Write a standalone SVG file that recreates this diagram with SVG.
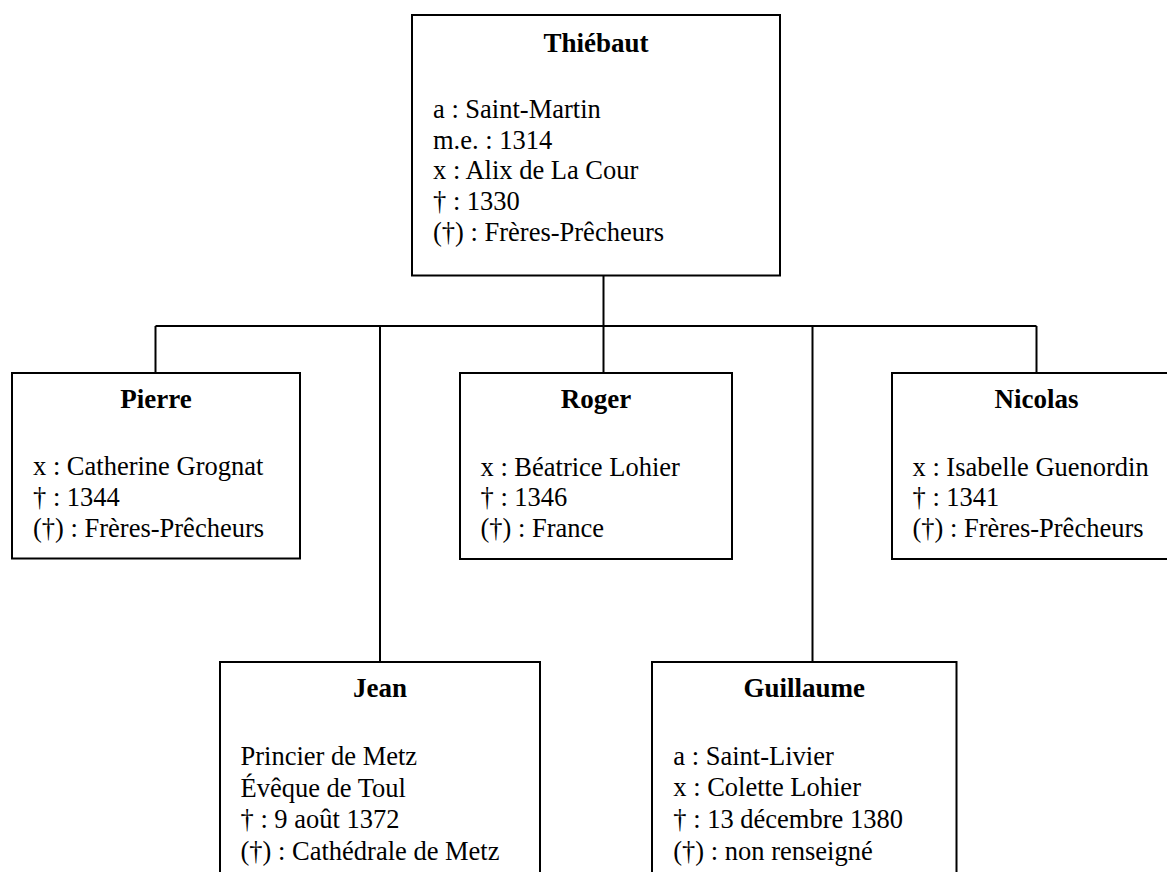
<svg xmlns="http://www.w3.org/2000/svg" width="1167" height="872" viewBox="0 0 1167 872">
<style>
.box{fill:#fff;stroke:#000;stroke-width:2}
.ln{stroke:#000;stroke-width:2;fill:none}
.t{font-weight:bold;text-anchor:middle;font-size:27px}
</style>
<rect width="1167" height="872" fill="#fff"/>
<g id="connectors">
<line class="ln" x1="603.5" y1="275" x2="603.5" y2="326"/>
<line class="ln" x1="155.5" y1="326" x2="1036.5" y2="326"/>
<line class="ln" x1="155.5" y1="326" x2="155.5" y2="373"/>
<line class="ln" x1="380" y1="326" x2="380" y2="662"/>
<line class="ln" x1="603.5" y1="326" x2="603.5" y2="373"/>
<line class="ln" x1="812.5" y1="326" x2="812.5" y2="662"/>
<line class="ln" x1="1036.5" y1="326" x2="1036.5" y2="373"/>
</g>
<g font-family="'Liberation Serif', 'Times New Roman', serif" font-size="26.5" fill="#000">
<g id="thiebaut">
<rect class="box" x="412" y="15" width="368" height="260.5"/>
<text class="t" x="596" y="52">Thiébaut</text>
<text x="433" y="118">a : Saint-Martin</text>
<text x="433" y="148.7">m.e. : 1314</text>
<text x="433" y="179.4">x : Alix de La Cour</text>
<text x="433" y="210.1">† : 1330</text>
<text x="433" y="240.8">(†) : Frères-Prêcheurs</text>
</g>
<g id="pierre">
<rect class="box" x="12" y="373" width="288" height="185.5"/>
<text class="t" x="156" y="408">Pierre</text>
<text x="33" y="475">x : Catherine Grognat</text>
<text x="33" y="506">† : 1344</text>
<text x="33" y="537">(†) : Frères-Prêcheurs</text>
</g>
<g id="roger">
<rect class="box" x="460" y="373" width="272" height="186"/>
<text class="t" x="596" y="408">Roger</text>
<text x="480.5" y="475.5">x : Béatrice Lohier</text>
<text x="480.5" y="506">† : 1346</text>
<text x="480.5" y="537">(†) : France</text>
</g>
<g id="nicolas">
<rect class="box" x="892" y="373" width="288" height="186"/>
<text class="t" x="1036.5" y="408">Nicolas</text>
<text x="912.5" y="475.5">x : Isabelle Guenordin</text>
<text x="912.5" y="506">† : 1341</text>
<text x="912.5" y="537">(†) : Frères-Prêcheurs</text>
</g>
<g id="jean">
<rect class="box" x="220" y="662" width="320" height="230"/>
<text class="t" x="380" y="696.5">Jean</text>
<text x="240.5" y="765">Princier de Metz</text>
<text x="240.5" y="796.5">Évêque de Toul</text>
<text x="240.5" y="828">† : 9 août 1372</text>
<text x="240.5" y="859.5">(†) : Cathédrale de Metz</text>
</g>
<g id="guillaume">
<rect class="box" x="652" y="662" width="304.5" height="230"/>
<text class="t" x="804.3" y="696.5">Guillaume</text>
<text x="673.3" y="764.5">a : Saint-Livier</text>
<text x="673.3" y="796">x : Colette Lohier</text>
<text x="673.3" y="827.5">† : 13 décembre 1380</text>
<text x="673.3" y="859.5">(†) : non renseigné</text>
</g>
</g>
</svg>
